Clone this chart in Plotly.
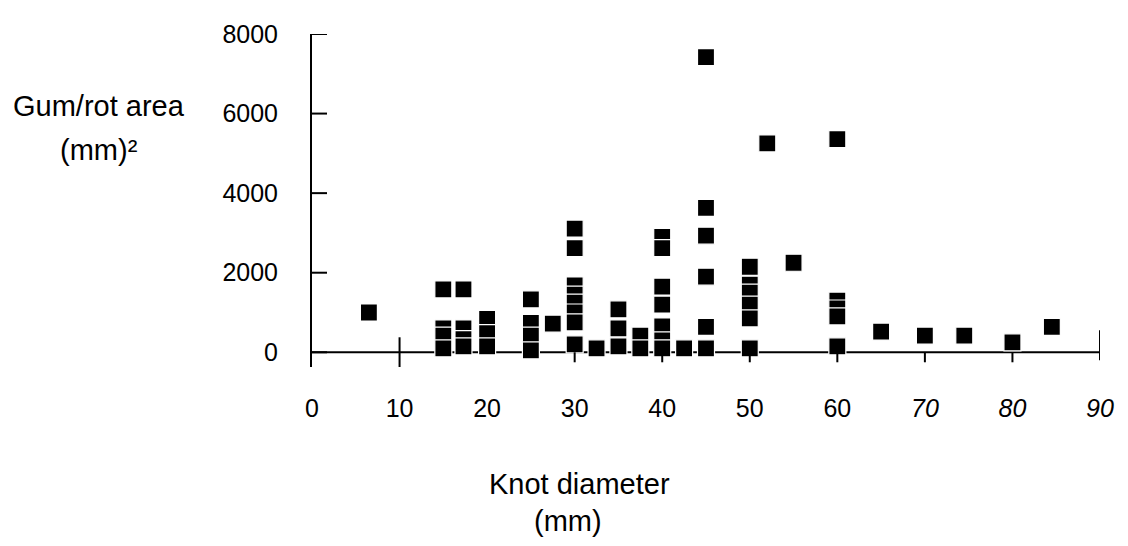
import plotly.graph_objects as go

# Data: knot diameter (mm) vs gum/rot area (mm^2)
knot_diameter = [6.5,
                 15, 15, 15, 15,
                 17.3, 17.3, 17.3, 17.3,
                 20, 20, 20,
                 25, 25, 25, 25,
                 27.5,
                 30, 30, 30, 30, 30, 30, 30, 30,
                 32.5,
                 35, 35, 35,
                 37.5, 37.5,
                 40, 40, 40, 40, 40, 40, 40,
                 42.5,
                 45, 45, 45, 45, 45, 45,
                 50, 50, 50, 50, 50, 50,
                 52, 55,
                 60, 60, 60, 60, 60,
                 65, 70, 74.5, 80, 84.5]
gum_rot_area = [1000,
                1580, 600, 420, 100,
                1580, 600, 330, 150,
                840, 480, 150,
                1330, 740, 420, 50,
                720,
                3110, 2620, 1680, 1450, 1250, 1000, 750, 200,
                100,
                1080, 600, 150,
                420, 100,
                2900, 2620, 1650, 1200, 650, 300, 100,
                100,
                7420, 3630, 2930, 1900, 640, 100,
                2150, 1700, 1500, 1200, 850, 100,
                5250, 2250,
                5360, 1300, 1100, 900, 150,
                520, 420, 420, 250, 640]

x_ticks = [0, 10, 20, 30, 40, 50, 60, 70, 80, 90]
x_tick_text = ["0", "10", "20", "30", "40", "50", "60", "<i>70</i>", "<i>80</i>", "<i>90</i>"]
y_ticks = [0, 2000, 4000, 6000, 8000]
y_tick_text = ["0", "2000", "4000", "6000", "8000"]

FONT = "Liberation Sans, Arial, Helvetica, sans-serif"

fig = go.Figure()
fig.add_trace(go.Scatter(
    x=knot_diameter, y=gum_rot_area, mode="markers",
    marker=dict(symbol="square", size=17, color="black",
                line=dict(color="white", width=1.2)),
    showlegend=False, hoverinfo="skip"))

shapes = []
# x-axis line at y = 0
shapes.append(dict(type="line", xref="x", yref="y", x0=0, x1=90, y0=0, y1=0,
                   line=dict(color="black", width=2), layer="below"))
# crossing y ticks
for v in y_ticks:
    shapes.append(dict(type="line", xref="x", yref="y", xsizemode="pixel", xanchor=0,
                       x0=-15, x1=15, y0=v, y1=v, line=dict(color="black", width=2)))
# x tick marks
for v in x_ticks[1:]:
    if v == 10:
        y0, y1 = -15, 15
    elif v == 90:
        y0, y1 = -8, 22
    elif v == 20:
        continue
    else:
        y0, y1 = -10, 0
    shapes.append(dict(type="line", xref="x", yref="y", ysizemode="pixel", yanchor=0,
                       x0=v, x1=v, y0=y0, y1=y1, line=dict(color="black", width=2)))

fig.update_layout(
    width=1128, height=546,
    margin=dict(l=304, r=36, t=20, b=187),
    paper_bgcolor="white", plot_bgcolor="white",
    font=dict(family=FONT, color="black", size=25),
    xaxis=dict(range=[0, 90], tickvals=x_ticks, ticktext=x_tick_text,
               showgrid=False, zeroline=False, showline=False, ticks="",
               ticklabelstandoff=24, tickfont=dict(size=25)),
    yaxis=dict(range=[-370, 8000], tickvals=y_ticks, ticktext=y_tick_text,
               showgrid=False, zeroline=False, showline=True, linecolor="black",
               linewidth=2, ticks="", ticklabelstandoff=27, tickfont=dict(size=25)),
    shapes=shapes,
    annotations=[
        dict(text="Gum/rot area", xref="paper", yref="paper", x=-0.27, y=1,
             xanchor="center", yanchor="middle", showarrow=False,
             font=dict(size=29), yshift=-72),
        dict(text="(mm)²", xref="paper", yref="paper", x=-0.27, y=1,
             xanchor="center", yanchor="middle", showarrow=False,
             font=dict(size=29), yshift=-116),
        dict(text="Knot diameter", xref="paper", yref="paper", x=0.34, y=0,
             xanchor="center", yanchor="middle", showarrow=False,
             font=dict(size=29), yshift=-117),
        dict(text="(mm)", xref="paper", yref="paper", x=0.325, y=0,
             xanchor="center", yanchor="middle", showarrow=False,
             font=dict(size=29), yshift=-154),
    ],
)

fig.write_html("out.html")
